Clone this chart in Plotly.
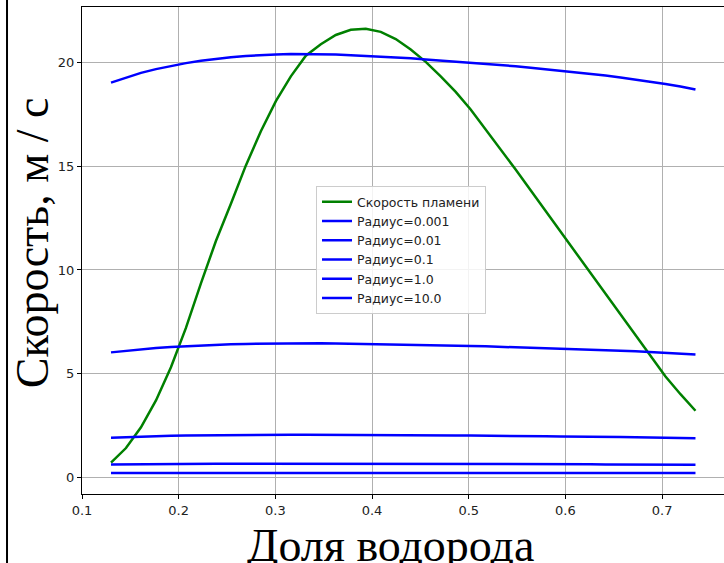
import plotly.graph_objects as go

# Hydrogen fraction grid (shared by all curves)
h2_fraction = [0.1300, 0.1455, 0.1610, 0.1765, 0.1920, 0.2075, 0.2230, 0.2385,
               0.2540, 0.2695, 0.2850, 0.3005, 0.3160, 0.3315, 0.3470, 0.3625,
               0.3780, 0.3935, 0.4090, 0.4245, 0.4400, 0.4555, 0.4710, 0.4865,
               0.5020, 0.5175, 0.5330, 0.5485, 0.5640, 0.5795, 0.5950, 0.6105,
               0.6260, 0.6415, 0.6570, 0.6725, 0.6880, 0.7035, 0.7190, 0.7345]

# Laminar flame speed, m/s
flame_speed = [0.70, 1.40, 2.40, 3.70, 5.30, 7.20, 9.35, 11.40,
               13.20, 15.05, 16.70, 18.15, 19.35, 20.35, 20.90, 21.35,
               21.60, 21.65, 21.50, 21.15, 20.65, 20.05, 19.35, 18.60,
               17.75, 16.80, 15.85, 14.85, 13.85, 12.85, 11.85, 10.85,
               9.85, 8.85, 7.85, 6.85, 5.85, 4.85, 4.00, 3.20]

# Speeds for different radii, m/s
speed_r0001 = [19.05, 19.30, 19.52, 19.70, 19.86, 19.99, 20.10, 20.19,
               20.27, 20.33, 20.38, 20.41, 20.43, 20.43, 20.42, 20.40,
               20.37, 20.34, 20.30, 20.26, 20.22, 20.17, 20.12, 20.07,
               20.02, 19.96, 19.90, 19.84, 19.77, 19.70, 19.63, 19.55,
               19.47, 19.39, 19.30, 19.20, 19.10, 18.98, 18.86, 18.72]
speed_r001 = [6.02, 6.10, 6.17, 6.23, 6.28, 6.32, 6.36, 6.38,
              6.41, 6.43, 6.44, 6.45, 6.46, 6.46, 6.46, 6.45,
              6.44, 6.43, 6.42, 6.41, 6.39, 6.38, 6.36, 6.35,
              6.33, 6.31, 6.29, 6.27, 6.25, 6.23, 6.21, 6.18,
              6.16, 6.13, 6.10, 6.07, 6.04, 6.00, 5.96, 5.92]
speed_r01 = [1.90, 1.93, 1.95, 1.97, 1.99, 2.00, 2.01, 2.02,
             2.03, 2.03, 2.04, 2.04, 2.04, 2.04, 2.04, 2.04,
             2.04, 2.03, 2.03, 2.03, 2.02, 2.02, 2.01, 2.01,
             2.00, 2.00, 1.99, 1.98, 1.98, 1.97, 1.96, 1.96,
             1.95, 1.94, 1.93, 1.92, 1.91, 1.90, 1.89, 1.87]
speed_r1 = [0.60, 0.61, 0.62, 0.62, 0.63, 0.63, 0.64, 0.64,
            0.64, 0.64, 0.64, 0.65, 0.65, 0.65, 0.65, 0.65,
            0.64, 0.64, 0.64, 0.64, 0.64, 0.64, 0.64, 0.63,
            0.63, 0.63, 0.63, 0.63, 0.63, 0.62, 0.62, 0.62,
            0.62, 0.61, 0.61, 0.61, 0.60, 0.60, 0.60, 0.59]
speed_r10 = [0.19, 0.19, 0.20, 0.20, 0.20, 0.20, 0.20, 0.20,
             0.20, 0.20, 0.20, 0.20, 0.20, 0.20, 0.20, 0.20,
             0.20, 0.20, 0.20, 0.20, 0.20, 0.20, 0.20, 0.20,
             0.20, 0.20, 0.20, 0.20, 0.20, 0.20, 0.20, 0.20,
             0.19, 0.19, 0.19, 0.19, 0.19, 0.19, 0.19, 0.19]

radius_labels = ["Радиус=0.001", "Радиус=0.01", "Радиус=0.1", "Радиус=1.0", "Радиус=10.0"]
radius_series = [speed_r0001, speed_r001, speed_r01, speed_r1, speed_r10]

x_ticks = [0.1, 0.2, 0.3, 0.4, 0.5, 0.6, 0.7]
y_ticks = [0, 5, 10, 15, 20]

fig = go.Figure()
fig.add_trace(go.Scatter(x=h2_fraction, y=flame_speed, mode="lines",
                         name="Скорость пламени",
                         line=dict(color="#008000", width=2.5)))
for label, values in zip(radius_labels, radius_series):
    fig.add_trace(go.Scatter(x=h2_fraction, y=values, mode="lines", name=label,
                             line=dict(color="#0000ff", width=2.5)))

tick_font = dict(family="DejaVu Sans", size=13, color="#222222")
title_font = dict(family="Liberation Serif", size=46, color="#000000")

fig.update_layout(
    width=724, height=563,
    margin=dict(l=82, r=0, t=7, b=69),
    paper_bgcolor="white", plot_bgcolor="white",
    showlegend=True,
    legend=dict(x=0.3645, y=0.632, xanchor="left", yanchor="top",
                bgcolor="rgba(255,255,255,0.85)", bordercolor="#cccccc",
                borderwidth=1, font=dict(family="DejaVu Sans", size=12.5, color="#222222"),
                tracegroupgap=0),
    xaxis=dict(range=[0.1, 0.764], tickvals=x_ticks,
               ticktext=[f"{v:.1f}" for v in x_ticks],
               showgrid=True, gridcolor="#b0b0b0", gridwidth=1,
               zeroline=False, showline=True, linecolor="#000000", linewidth=1,
               mirror=True, ticks="outside", ticklen=4, tickcolor="#000000",
               tickfont=tick_font),
    yaxis=dict(range=[-0.82, 22.7], tickvals=y_ticks,
               ticktext=[str(v) for v in y_ticks],
               showgrid=True, gridcolor="#b0b0b0", gridwidth=1,
               zeroline=False, showline=True, linecolor="#000000", linewidth=1,
               ticks="outside", ticklen=4, tickcolor="#000000",
               tickfont=tick_font),
    annotations=[
        dict(text="Скорость, м / с", xref="paper", yref="paper",
             x=-0.078, y=0.517, xanchor="center", yanchor="middle",
             textangle=-90, showarrow=False, font=title_font),
        dict(text="Доля водорода", xref="paper", yref="paper",
             x=0.4798, y=-0.049, xanchor="center", yanchor="top",
             showarrow=False, font=title_font),
    ],
    shapes=[
        dict(type="line", xref="paper", yref="paper",
             x0=-0.1168, x1=-0.1168, y0=-0.2, y1=1.05,
             line=dict(color="#000000", width=2)),
    ],
)

fig.write_html("out.html")
